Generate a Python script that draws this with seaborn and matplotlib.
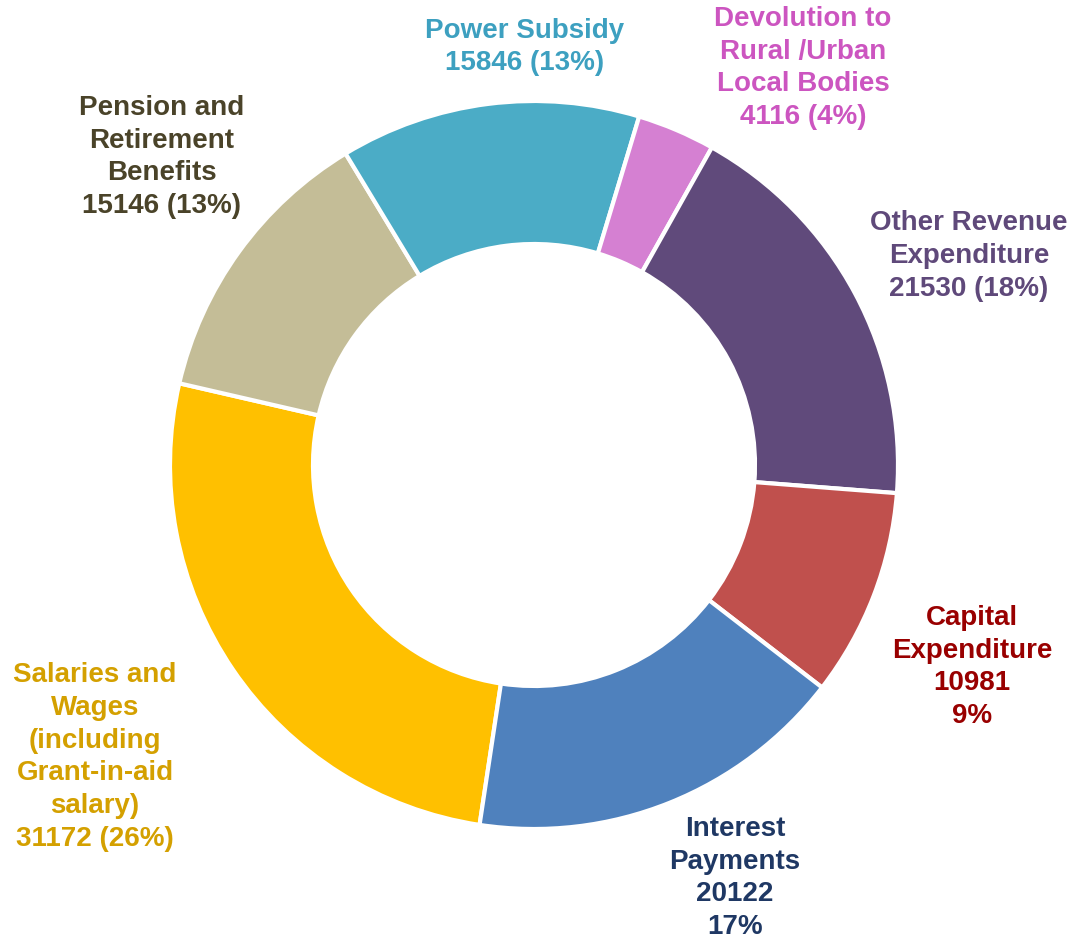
"""Expenditure breakdown donut chart."""
import matplotlib
matplotlib.use("Agg")
import matplotlib.pyplot as plt
import seaborn as sns

# data, clockwise from the bottom (Salaries first)
categories = [
    "Salaries and\nWages\n(including\nGrant-in-aid\nsalary)",
    "Pension and\nRetirement\nBenefits",
    "Power Subsidy",
    "Devolution to\nRural /Urban\nLocal Bodies",
    "Other Revenue\nExpenditure",
    "Capital\nExpenditure",
    "Interest\nPayments",
]
amounts = [31172, 15146, 15846, 4116, 21530, 10981, 20122]
pct_labels = ["26%", "13%", "13%", "4%", "18%", "9%", "17%"]
# labels that put the percent on its own line
pct_own_line = [False, False, False, False, False, True, True]

wedge_colors = ["#FFC000", "#C4BD97", "#4BACC6", "#D580D2", "#604A7B", "#C0504D", "#4F81BD"]
label_colors = ["#D4A000", "#4A4329", "#3DA0C0", "#CC55C0", "#5F497A", "#990000", "#1F3864"]

# label centres in pixels (x from left, y from top)
label_pos = [(95, 757), (162, 157), (525, 47), (803, 68), (969, 256), (972, 667), (735, 878)]

W, H = 1075, 941

sns.set_theme(style="white")
plt.rcParams["font.family"] = ["Liberation Sans", "DejaVu Sans"]

fig = plt.figure(figsize=(W / 100, H / 100), dpi=100)
ax = fig.add_axes([0, 0, 1, 1])

ax.pie(
    amounts,
    colors=sns.color_palette(wedge_colors),
    startangle=-98.6,
    counterclock=False,
    radius=364,
    center=(534, H - 465),
    wedgeprops=dict(width=143, edgecolor="white", linewidth=3),
    frame=True,
)
ax.set_xlim(0, W)
ax.set_ylim(0, H)
ax.set_aspect("equal")
ax.axis("off")

for name, val, pct, own, col, (x, y) in zip(
    categories, amounts, pct_labels, pct_own_line, label_colors, label_pos
):
    if own:
        txt = f"{name}\n{val}\n{pct}"
    else:
        txt = f"{name}\n{val} ({pct})"
    ax.text(x, H - y, txt, ha="center", va="center", color=col,
            fontsize=20, fontweight="bold", linespacing=1.33)

fig.savefig("out.png", dpi=100)
